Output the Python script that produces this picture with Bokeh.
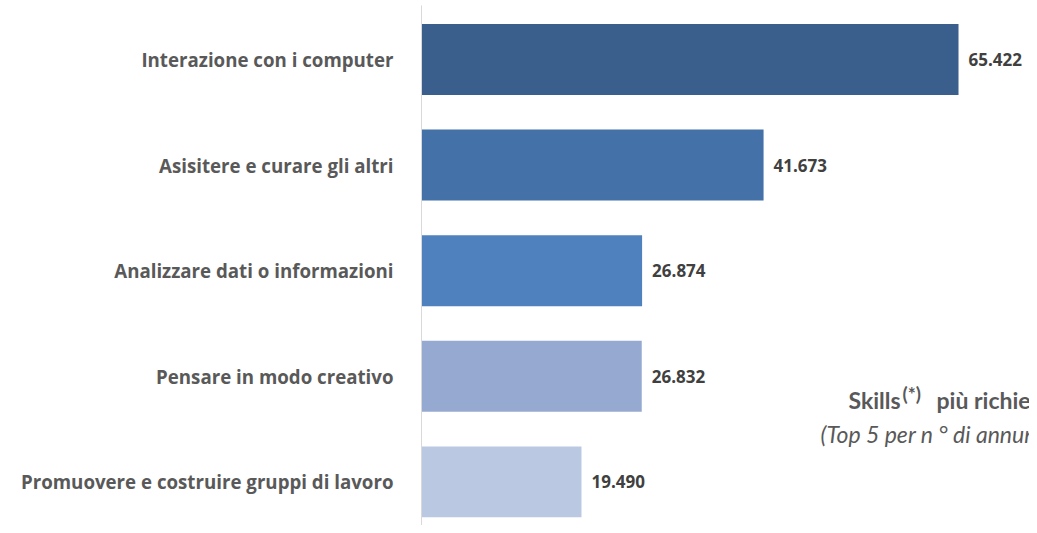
from bokeh.plotting import figure
from bokeh.models import Range1d, FixedTicker, Label
from bokeh.core.properties import value
from bokeh.embed import file_html
from bokeh.resources import INLINE

# ---- data ----
skills = [
    "Interazione con i computer",
    "Asisitere e curare gli altri",
    "Analizzare dati o informazioni",
    "Pensare in modo creativo",
    "Promuovere e costruire gruppi di lavoro",
]
annunci = [65422, 41673, 26874, 26832, 19490]
bar_colors = ["#3B5F8C", "#4371A8", "#4E81BD", "#96AAD1", "#BBC8E1"]

positions = list(range(len(skills)))
value_labels = [f"{v:,}".replace(",", ".") for v in annunci]

FONT = "Open Sans"
TFONT = "Lato"
GREY = "#595959"

p = figure(
    width=1029, height=525,
    output_backend="svg", toolbar_location=None,
    x_range=Range1d(0, 74070),
    y_range=Range1d(4.413, -0.511),
    min_border_left=421, min_border_right=0,
    min_border_top=5, min_border_bottom=0,
)
p.outline_line_color = None
p.xaxis.visible = False
p.xgrid.visible = False
p.ygrid.visible = False

p.hbar(y=positions, left=0, right=annunci, height=0.672,
       fill_color=bar_colors, line_color=None)

p.text(x=annunci, y=positions, text=value_labels, x_offset=10,
       text_baseline="middle", text_align="left",
       text_font=value(FONT), text_font_style="bold",
       text_font_size="17px", text_color="#404040")

ax = p.yaxis[0]
ax.ticker = FixedTicker(ticks=positions)
ax.major_label_overrides = {i: s for i, s in zip(positions, skills)}
ax.major_tick_line_color = None
ax.minor_tick_line_color = None
ax.axis_line_color = "#D9D9D9"
ax.major_label_standoff = 22
ax.major_label_text_font = FONT
ax.major_label_text_font_style = "bold"
ax.major_label_text_font_size = "18.7px"
ax.major_label_text_color = GREY

# title block at the right (cut by the page edge)
p.add_layout(Label(x=52020, y=3.229, text="Skills", text_font=TFONT,
                   text_font_style="bold", text_font_size="23px",
                   text_color=GREY, text_baseline="alphabetic"))
p.add_layout(Label(x=58600, y=3.163, text="(*)", text_font=TFONT,
                   text_font_style="bold", text_font_size="19px",
                   text_color=GREY, text_baseline="alphabetic"))
p.add_layout(Label(x=62740, y=3.229, text="più richieste", text_font=TFONT,
                   text_font_style="bold", text_font_size="23px",
                   text_color=GREY, text_baseline="alphabetic"))
p.add_layout(Label(x=48610, y=3.542, text="(Top 5 per n ° di annunci)",
                   text_font=TFONT, text_font_style="italic",
                   text_font_size="23px", text_color=GREY,
                   text_baseline="alphabetic"))

open("out.html", "w").write(file_html(p, INLINE))
